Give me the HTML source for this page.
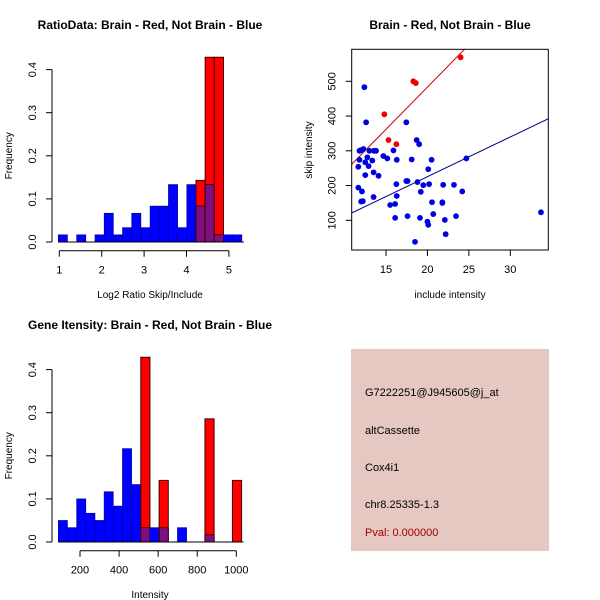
<!DOCTYPE html>
<html><head><meta charset="utf-8"><style>
body{margin:0;background:#fff;}
svg{display:block;font-family:"Liberation Sans",sans-serif;}
</style></head><body>
<svg id="s" width="600" height="600" viewBox="0 0 600 600">
<rect width="600" height="600" fill="#fff"/>
<text x="150" y="29" text-anchor="middle" font-size="12" font-weight="bold">RatioData: Brain - Red, Not Brain - Blue</text>
<text x="450" y="29" text-anchor="middle" font-size="12" font-weight="bold">Brain - Red, Not Brain - Blue</text>
<text x="150" y="329" text-anchor="middle" font-size="12" font-weight="bold">Gene Itensity: Brain - Red, Not Brain - Blue</text>
<g>
<rect x="351" y="349" width="198" height="202" fill="#e6c8c2"/>
<text x="365" y="396" font-size="11">G7222251@J945605@j_at</text>
<text x="365" y="434" font-size="11">altCassette</text>
<text x="365" y="471" font-size="11">Cox4i1</text>
<text x="365" y="508" font-size="11">chr8.25335-1.3</text>
<text x="365" y="536" font-size="11" fill="#a00000">Pval: 0.000000</text>
</g>
</svg>
<script>
// Ratio histogram data (20 bins)
const ratioBinStart = 0.976;
const ratioBinWidth = 0.2165;
const ratioBlue = [0.0167,0,0.0167,0,0.0167,0.0667,0.0167,0.0333,0.0667,0.0333,0.0833,0.0833,0.1333,0.0333,0.1333,0.0833,0.1333,0.0167,0.0167,0.0167];
const ratioRed  = [0,0,0,0,0,0,0,0,0,0,0,0,0,0,0,0.1429,0.4286,0.4286,0,0];
const ratioXTicks = [1,2,3,4,5];
// Intensity histogram data
const intBinStart = 89;
const intBinWidth = 46.9;
const intBlue = [0.05,0.0333,0.1,0.0667,0.05,0.1167,0.0833,0.2167,0.1333,0.0333,0.0333,0.0333,0,0.0333,0,0,0.0167,0,0,0];
const intRed  = [0,0,0,0,0,0,0,0,0,0.4286,0,0.1429,0,0,0,0,0.2857,0,0,0.1429];
const intXTicks = [200,400,600,800,1000];
const freqTicks = [0,0.1,0.2,0.3,0.4];
// Scatter data
const blueX = [12.39,12.6,11.8,12.0,12.27,11.8,11.66,13.0,13.55,13.8,12.75,12.5,12.9,13.35,12.5,13.5,14.1,14.68,15.16,11.66,12.1,12.0,12.2,13.5,15.9,16.3,16.25,16.3,15.5,16.1,16.1,17.45,17.45,17.6,17.6,18.1,18.7,19.0,18.8,19.5,19.2,19.1,18.5,20.1,20.5,20.2,20.55,20.0,20.1,20.7,21.9,21.8,21.8,22.1,22.2,23.2,23.45,24.2,24.7,33.7];
const blueY = [483,382,300,302,305,274,254,300,300,300,281,267,256,272,230,238,228,285,278,194,183,154,155,167,301,274,204,170,144,147,107,382,213,213,112,275,331,319,210,201,182,107,38,247,274,204,152,96,87,118,202,152,150,101,60,202,112,183,278,123];
const redX = [14.8,15.3,16.25,18.3,18.6,24.0];
const redY = [405,331,319,500,495,569];
const fitRed = [-2.7,24.3];   // intercept, slope
const fitBlue = [-3.1,11.43];
const scatXTicks = [15,20,25,30];
const scatYTicks = [100,200,300,400,500];

const svg = document.getElementById('s');
const NS = 'http://www.w3.org/2000/svg';
function mk(tag, attrs, parent){const e=document.createElementNS(NS,tag);for(const k in attrs)e.setAttribute(k,attrs[k]);(parent||svg).appendChild(e);return e;}

function hist(opts){
  const g = mk('g',{});
  
  
  const xs = v => opts.x0 + (v - opts.xv0) * opts.kx;
  const ys = v => opts.y0 - v * opts.ky;
  for(let i=0;i<opts.blue.length;i++){
    const a = xs(opts.start + i*opts.w), b = xs(opts.start + (i+1)*opts.w);
    const bv = opts.blue[i], rv = opts.red[i];
    if(bv>0){const r=mk('rect',{x:a,y:ys(bv),width:b-a,height:ys(0)-ys(bv),fill:'#0000ff',stroke:'#00008b','stroke-width':0.6},g);
      
      }
    if(rv>0){const r=mk('rect',{x:a,y:ys(rv),width:b-a,height:ys(0)-ys(rv),fill:'#ff0000',stroke:'#400000','stroke-width':1},g);
      
      }
    const m = Math.min(bv,rv);
    if(m>0){const r=mk('rect',{x:a,y:ys(m),width:b-a,height:ys(0)-ys(m),fill:'#7f0f80',stroke:'#400000','stroke-width':1},g);
      
      }
  }
  mk('line',{x1:xs(opts.start),x2:xs(opts.start+opts.blue.length*opts.w)+2,y1:opts.y0,y2:opts.y0,stroke:'#000'},g);
  const ya = mk('g',{},g);
  
  
  mk('line',{x1:opts.yax,x2:opts.yax,y1:ys(0),y2:ys(0.4),stroke:'#000'},ya);
  freqTicks.forEach(t=>{
    mk('line',{x1:opts.yax-6,x2:opts.yax,y1:ys(t),y2:ys(t),stroke:'#000'},ya);
    const lx = opts.yax-16;
    const tx=mk('text',{x:lx,y:ys(t),'font-size':11,'text-anchor':'middle',transform:`rotate(-90 ${lx} ${ys(t)})`},ya);
    tx.textContent = t===0?'0.0':String(t);
  });
  const yt=mk('text',{x:12,y:ys(0.2),'font-size':10,'text-anchor':'middle',transform:`rotate(-90 12 ${ys(0.2)})`},g);
  
  
  yt.textContent='Frequency';
  const xa = mk('g',{},g);
  
  
  const ay = opts.y0 + 8.7;
  mk('line',{x1:xs(opts.ticks[0]),x2:xs(opts.ticks[opts.ticks.length-1]),y1:ay,y2:ay,stroke:'#000'},xa);
  opts.ticks.forEach(t=>{
    mk('line',{x1:xs(t),x2:xs(t),y1:ay,y2:ay+6,stroke:'#000'},xa);
    const tx=mk('text',{x:xs(t),y:ay+23,'font-size':11,'text-anchor':'middle'},xa);
    tx.textContent=String(t);
  });
  const xt=mk('text',{x:150,y:opts.y0+56,'font-size':10,'text-anchor':'middle'},g);
  
  
  xt.textContent=opts.xlabel;
}
hist({name:'ratio-histogram',blue:ratioBlue,red:ratioRed,start:ratioBinStart,w:ratioBinWidth,ticks:ratioXTicks,x0:59.3,xv0:1,kx:42.4,y0:242,ky:431,yax:52,xlabel:'Log2 Ratio Skip/Include'});
hist({name:'intensity-histogram',blue:intBlue,red:intRed,start:intBinStart,w:intBinWidth,ticks:intXTicks,x0:80,xv0:200,kx:0.1954,y0:542,ky:431,yax:52,xlabel:'Intensity'});

// scatter
(function(){
  const g = mk('g',{});
  
  
  const L=351.7,R=548.3,T=49.3,B=250;
  const xs = v => 386 + (v-15)*8.287;
  const ys = v => 220.3 - (v-100)*0.3475;
  const cp = mk('clipPath',{id:'cp'},g); mk('rect',{x:L,y:T,width:R-L,height:B-T},cp);
  [[fitRed,'#cc0000','red-fit-line'],[fitBlue,'#00008b','blue-fit-line']].forEach(([f,c,n])=>{
    const l=mk('line',{x1:xs(10),y1:ys(f[0]+f[1]*10),x2:xs(40),y2:ys(f[0]+f[1]*40),stroke:c,'stroke-width':1,'clip-path':'url(#cp)'},g);
    
    
  });
  blueX.forEach((x,i)=>{const c=mk('circle',{cx:xs(x),cy:ys(blueY[i]),r:2.9,fill:'#0000dd'},g);
    
    });
  redX.forEach((x,i)=>{const c=mk('circle',{cx:xs(x),cy:ys(redY[i]),r:2.9,fill:'#ee0000'},g);
    
    });
  mk('rect',{x:L,y:T,width:R-L,height:B-T,fill:'none',stroke:'#000'},g);
  scatXTicks.forEach(t=>{
    mk('line',{x1:xs(t),x2:xs(t),y1:B,y2:B+6,stroke:'#000'},g);
    const tx=mk('text',{x:xs(t),y:B+23,'font-size':11,'text-anchor':'middle'},g); tx.textContent=t;
  });
  scatYTicks.forEach(t=>{
    mk('line',{x1:L-6,x2:L,y1:ys(t),y2:ys(t),stroke:'#000'},g);
    const lx = L-16;
    const tx=mk('text',{x:lx,y:ys(t),'font-size':11,'text-anchor':'middle',transform:`rotate(-90 ${lx} ${ys(t)})`},g); tx.textContent=t;
  });
  const xt=mk('text',{x:450,y:298,'font-size':10,'text-anchor':'middle'},g);
  
  
  xt.textContent='include intensity';
  const yt=mk('text',{x:312,y:150,'font-size':10,'text-anchor':'middle',transform:'rotate(-90 312 150)'},g);
  
  
  yt.textContent='skip intensity';
})();
</script>
</body></html>
